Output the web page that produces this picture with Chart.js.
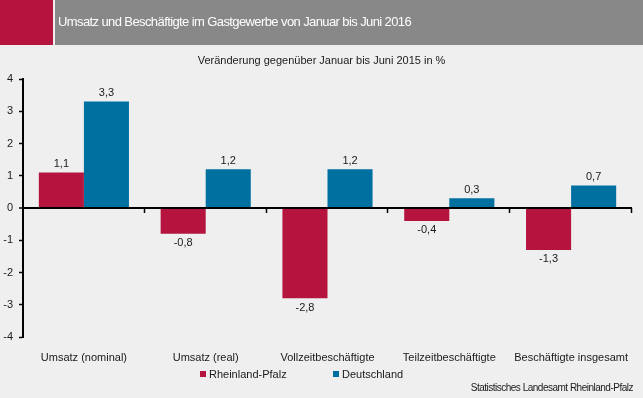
<!DOCTYPE html>
<html lang="de">
<head>
<meta charset="utf-8">
<script src="https://cdn.jsdelivr.net/npm/chart.js@4"></script>
<style>
  html, body { margin: 0; padding: 0; }
  body { width: 643px; height: 398px; background: #eeefee; position: relative; overflow: hidden;
         font-family: "Liberation Sans", Arial, sans-serif; color: #1a1a1a; }
  #chart { position: absolute; left: 0; top: 0; }
  .hdr-red { position: absolute; left: 0; top: 0; width: 53px; height: 45px; background: #b5143f; }
  .hdr-grey { position: absolute; left: 55px; top: 0; width: 588px; height: 45px; background: #888888; }
  .hdr-title { position: absolute; left: 58px; top: 14px; color: #fff; font-size: 13px; letter-spacing: -0.6px; white-space: nowrap; }
  .subtitle { position: absolute; left: 0; width: 643px; top: 54px; text-align: center; font-size: 11px; }
  .legend { position: absolute; top: 368px; font-size: 11px; }
  .legend span.box { display: inline-block; width: 6px; height: 6px; margin-right: 3px; vertical-align: 1px; }
  .source { position: absolute; right: 10px; top: 382px; font-size: 10px; letter-spacing: -0.5px; white-space: nowrap; }
</style>
</head>
<body>
<canvas id="chart" width="643" height="398"></canvas>
<div class="hdr-red"></div>
<div class="hdr-grey"></div>
<div class="hdr-title">Umsatz und Beschäftigte im Gastgewerbe von Januar bis Juni 2016</div>
<div class="subtitle">Veränderung gegenüber Januar bis Juni 2015 in %</div>
<div class="legend" style="left:200px"><span class="box" style="background:#b5143f"></span>Rheinland-Pfalz</div>
<div class="legend" style="left:333px"><span class="box" style="background:#0070a1"></span>Deutschland</div>
<div class="source">Statistisches Landesamt Rheinland-Pfalz</div>
<script>
const categories = ['Umsatz (nominal)', 'Umsatz (real)', 'Vollzeitbeschäftigte', 'Teilzeitbeschäftigte', 'Beschäftigte insgesamt'];
const rlp = [1.1, -0.8, -2.8, -0.4, -1.3];
const deutschland = [3.3, 1.2, 1.2, 0.3, 0.7];
const yTicks = [-4, -3, -2, -1, 0, 1, 2, 3, 4];

Chart.defaults.font.family = '"Liberation Sans", Arial, sans-serif';
Chart.defaults.font.size = 11;
Chart.defaults.color = '#1a1a1a';

function fmt(v) {
    return v.toFixed(1).replace('.', ',');
}

// value labels above / below the bars
const barLabels = {
    id: 'barLabels',
    afterDatasetsDraw(chart) {
        const ctx = chart.ctx;
        ctx.save();
        ctx.font = '11px "Liberation Sans", Arial, sans-serif';
        ctx.fillStyle = '#1a1a1a';
        ctx.textAlign = 'center';
        chart.data.datasets.forEach((ds, i) => {
            chart.getDatasetMeta(i).data.forEach((bar, j) => {
                const v = ds.data[j];
                if (v >= 0) {
                    ctx.textBaseline = 'bottom';
                    ctx.fillText(fmt(v), bar.x, bar.y - 3);
                } else {
                    ctx.textBaseline = 'top';
                    ctx.fillText(fmt(v), bar.x, bar.y + 4);
                }
            });
        });
        ctx.restore();
    }
};

// little separator ticks on the zero line between categories
const zeroTicks = {
    id: 'zeroTicks',
    afterDraw(chart) {
        const x = chart.scales.x, y = chart.scales.y;
        const y0 = y.getPixelForValue(0);
        const step = x.width / categories.length;
        const ctx = chart.ctx;
        ctx.save();
        ctx.strokeStyle = '#000';
        ctx.lineWidth = 1.5;
        for (let i = 1; i <= categories.length; i++) {
            const px = Math.round(x.left + i * step) - 0.5;
            ctx.beginPath();
            ctx.moveTo(px, y0);
            ctx.lineTo(px, y0 + 5);
            ctx.stroke();
        }
        ctx.restore();
    }
};

new Chart(document.getElementById('chart'), {
    type: 'bar',
    data: {
        labels: categories,
        datasets: [
            { label: 'Rheinland-Pfalz', data: rlp, backgroundColor: '#b5143f' },
            { label: 'Deutschland', data: deutschland, backgroundColor: '#0070a1' }
        ]
    },
    options: {
        responsive: false,
        animation: false,
        events: [],
        layout: { padding: { top: 79, right: 11, left: 0, bottom: 0 } },
        datasets: { bar: { categoryPercentage: 0.74, barPercentage: 1.0 } },
        plugins: { legend: { display: false }, tooltip: { enabled: false } },
        scales: {
            x: {
                afterFit(s) { s.height = 61; },
                grid: { display: false },
                border: { display: false },
                ticks: { padding: 6, maxRotation: 0, autoSkip: false }
            },
            y: {
                min: -4, max: 4,
                afterFit(s) { s.width = 23; },
                afterBuildTicks(s) { s.ticks = yTicks.map(v => ({ value: v })); },
                border: { display: true, color: '#000', width: 2 },
                grid: {
                    color: c => (c.tick && c.tick.value === 0 ? '#000' : 'rgba(0,0,0,0)'),
                    lineWidth: c => (c.tick && c.tick.value === 0 ? 2 : 1),
                    tickColor: '#000',
                    tickLength: 4,
                    tickWidth: 1.5
                },
                ticks: { padding: 6, callback: v => String(v) }
            }
        }
    },
    plugins: [barLabels, zeroTicks]
});
</script>
</body>
</html>
